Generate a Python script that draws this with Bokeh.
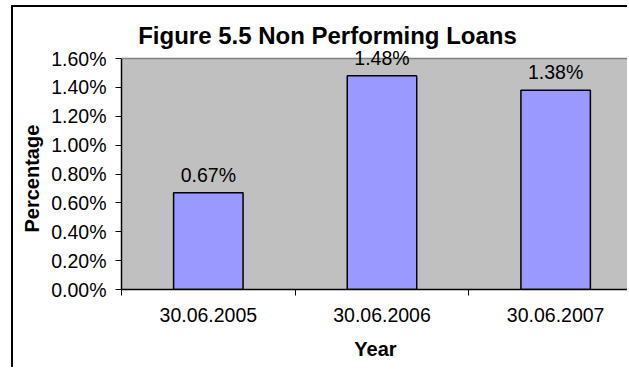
from bokeh.plotting import figure
from bokeh.models import (ColumnDataSource, FixedTicker, NumeralTickFormatter,
                          Label, Span, BoxAnnotation, Title)
from bokeh.embed import file_html
from bokeh.resources import INLINE

# Non performing loans as a share of total loans
years = ["30.06.2005", "30.06.2006", "30.06.2007"]
npl_ratio = [0.0067, 0.0148, 0.0138]
y_ticks = [0.0, 0.002, 0.004, 0.006, 0.008, 0.010, 0.012, 0.014, 0.016]

FONT = "Liberation Sans"

centers = [i + 0.5 for i in range(len(years))]
bounds = [float(i) for i in range(len(years) + 1)]
y_max = y_ticks[-1]

source = ColumnDataSource(data=dict(x=centers, y=npl_ratio))

# canvas sits inside a 2px black border on the top and left;
# the frame reaches the canvas top so the title and labels above the
# plot area stay inside it, and the grey plot area is drawn up to y_max
W, H = 616, 362
left, bottom = 107, 80
cat_px = 174.0
plot_px = 231.0
frame_px = H - bottom
y_end = y_max * frame_px / plot_px

p = figure(width=W, height=H, output_backend="svg", toolbar_location=None,
           x_range=(0, (W - left) / cat_px), y_range=(0, y_end),
           min_border_left=left, min_border_right=0,
           min_border_top=0, min_border_bottom=bottom)
p.margin = (5, 0, 0, 11)
p.styles = {"border-top": "2px solid black", "border-left": "2px solid black"}
p.background_fill_color = "white"
p.border_fill_color = "white"
p.outline_line_color = None
p.grid.visible = False

# grey plot area
p.add_layout(BoxAnnotation(bottom=0, top=y_max, fill_color="#C0C0C0",
                           fill_alpha=1, line_color=None, level="underlay"))
p.add_layout(Span(location=y_max, dimension="width",
                  line_color="#808080", line_width=1.5))

p.vbar(x="x", top="y", width=0.4, source=source,
       fill_color="#9999FF", line_color="black", line_width=1.5)

# x axis: labels at category centres, ticks on category boundaries
xa = p.xaxis[0]
xa.ticker = FixedTicker(ticks=centers, minor_ticks=bounds)
xa.major_label_overrides = {c: y for c, y in zip(centers, years)}
xa.major_tick_out = 0
xa.major_tick_in = 0
xa.minor_tick_out = 6
xa.minor_tick_in = 0
xa.minor_tick_line_color = "black"
xa.axis_line_color = "black"
xa.axis_line_width = 1.5
xa.major_label_text_font = FONT
xa.major_label_text_font_size = "19.5px"
xa.major_label_text_color = "black"
xa.major_label_standoff = 12
xa.axis_label = "Year"
xa.axis_label_text_font = FONT
xa.axis_label_text_font_style = "bold"
xa.axis_label_text_font_size = "20px"
xa.axis_label_text_color = "black"
xa.axis_label_standoff = 13

ya = p.yaxis[0]
ya.ticker = FixedTicker(ticks=y_ticks, minor_ticks=[])
ya.formatter = NumeralTickFormatter(format="0.00%")
ya.bounds = (0, y_max)
ya.major_tick_out = 6
ya.major_tick_in = 0
ya.minor_tick_out = 0
ya.axis_line_color = "black"
ya.axis_line_width = 1.5
ya.major_label_text_font = FONT
ya.major_label_text_font_size = "19.5px"
ya.major_label_text_color = "black"
ya.major_label_standoff = 9

# y axis title, centred on the grey plot area rather than the whole frame
p.add_layout(Title(text="Percentage", align="left", offset=57, standoff=11,
                   text_font=FONT, text_font_style="bold",
                   text_font_size="20px", text_color="black"), "left")

# value labels above bars
for xc, v in zip(centers, npl_ratio):
    p.add_layout(Label(x=xc, y=v, text=f"{v * 100:.2f}%",
                       text_align="center", text_baseline="alphabetic",
                       y_offset=18, text_font=FONT,
                       text_font_size="19.5px", text_color="black"))

# chart title (screen units measured from the frame's lower-left corner)
p.add_layout(Label(x=206, y=254, x_units="screen", y_units="screen",
                   text="Figure 5.5 Non Performing Loans", text_align="center",
                   text_baseline="alphabetic", text_font=FONT,
                   text_font_style="bold", text_font_size="24px",
                   text_color="black"))

open("out.html", "w").write(file_html(p, INLINE))
